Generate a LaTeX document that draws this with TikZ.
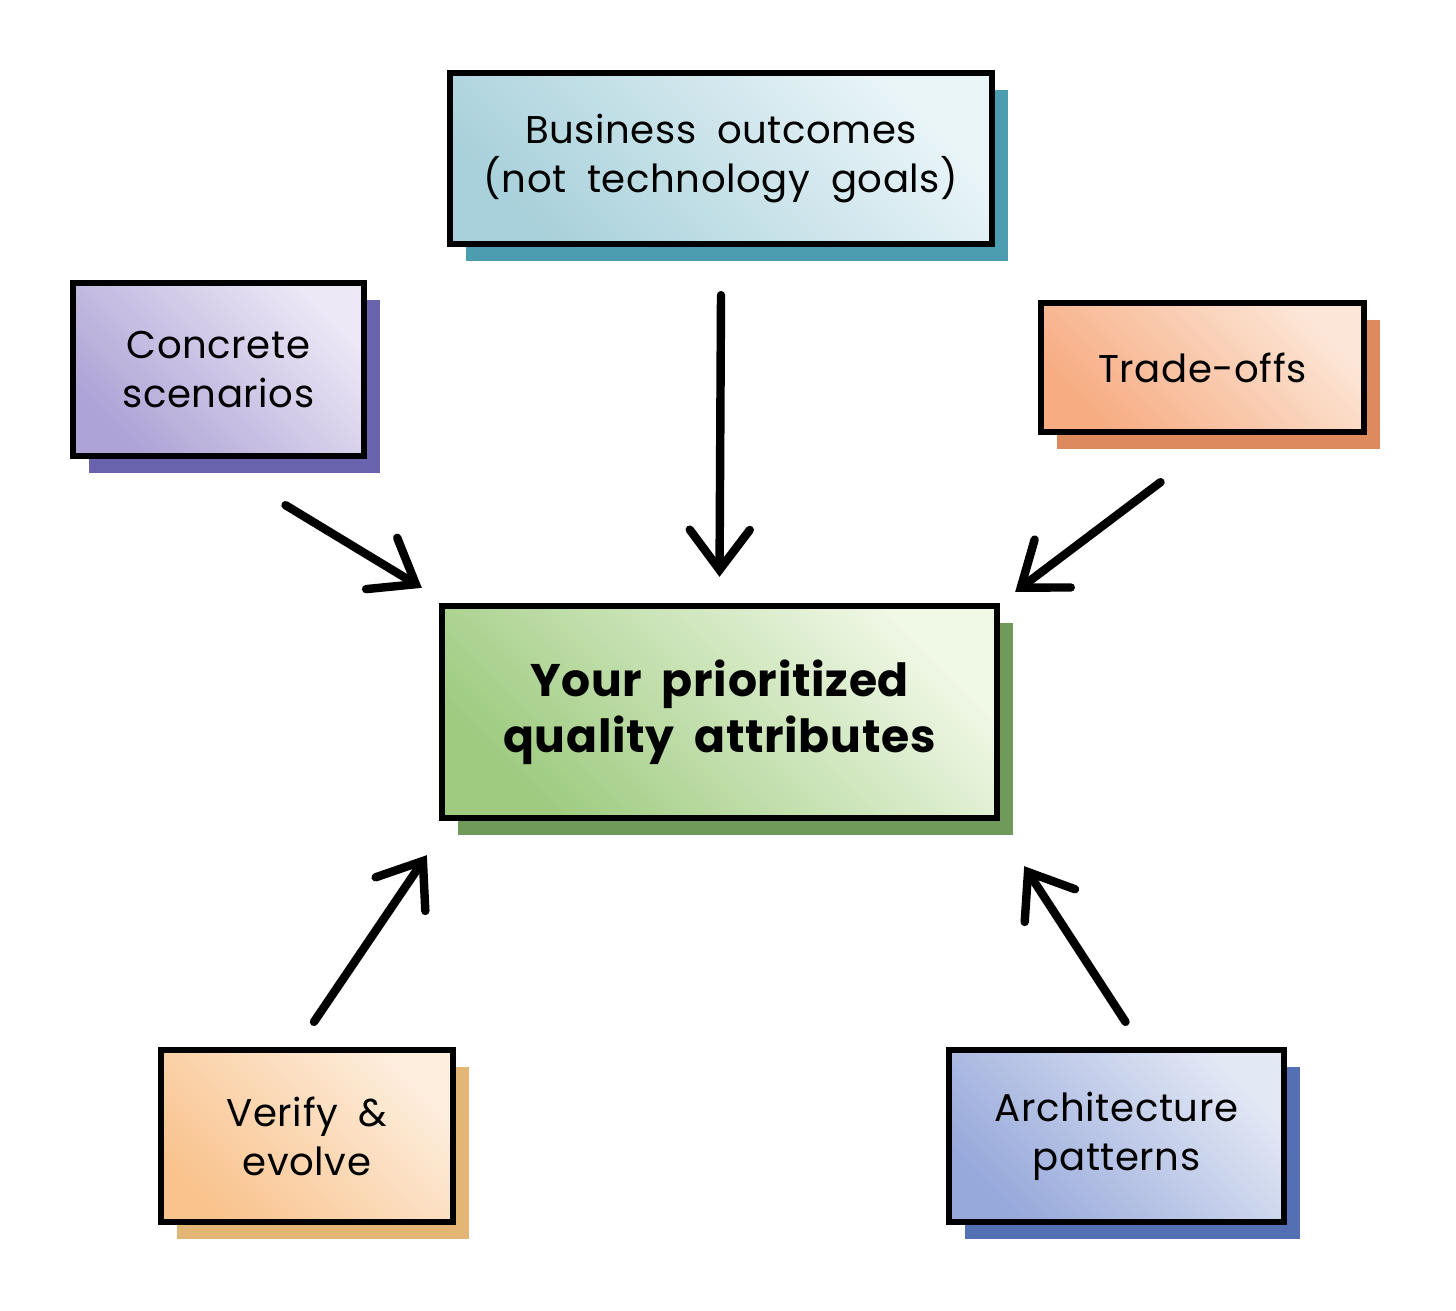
\documentclass[tikz,border=0pt]{standalone}
\usepackage{fontspec}
\setmainfont{Poppins}[LetterSpace=1.5,WordSpace=1.9]
\usepackage{tikz}
\usetikzlibrary{positioning, arrows.meta, shadows}

\definecolor{bizdark}{HTML}{A9D1DB}
\definecolor{bizlight}{HTML}{EAF5F8}
\definecolor{bizshadow}{HTML}{4D9DB0}
\definecolor{concdark}{HTML}{AEA3D6}
\definecolor{conclight}{HTML}{ECE8F6}
\definecolor{concshadow}{HTML}{6A64AE}
\definecolor{tradedark}{HTML}{F7AC82}
\definecolor{tradelight}{HTML}{FCE6D7}
\definecolor{tradeshadow}{HTML}{DD8A5E}
\definecolor{priodark}{HTML}{9ECB80}
\definecolor{priolight}{HTML}{F0F8E6}
\definecolor{prioshadow}{HTML}{6F9A5A}
\definecolor{verdark}{HTML}{F9C38E}
\definecolor{verlight}{HTML}{FDEEDD}
\definecolor{vershadow}{HTML}{E3B676}
\definecolor{archdark}{HTML}{97A9DB}
\definecolor{archlight}{HTML}{E3E8F5}
\definecolor{archshadow}{HTML}{546FB3}

\tikzset{
  card/.style n args={3}{shape=rectangle, draw=black, line width=1.8pt,
    align=center, inner sep=0pt,
    font=\fontsize{11}{14}\selectfont,
    top color=#2, bottom color=#1, shading angle=-45,
    general shadow={fill=#3, shadow xshift=0.16cm, shadow yshift=-0.17cm}},
  flow/.style={line width=2.4pt, line cap=round,
    -{Straight Barb[length=4mm, width=6mm, line cap=round]}},
}

\begin{document}
\begin{tikzpicture}
  \useasboundingbox (0,0) rectangle (14.56,-13.10);

  \node[card={bizdark}{bizlight}{bizshadow}, minimum width=5.42cm, minimum height=1.71cm] (biz) at (7.21,-1.585) {Business outcomes\\(not technology goals)};
  \node[card={concdark}{conclight}{concshadow}, minimum width=2.91cm, minimum height=1.73cm] (conc) at (2.185,-3.695) {Concrete\\scenarios};
  \node[card={tradedark}{tradelight}{tradeshadow}, minimum width=3.23cm, minimum height=1.29cm] (trade) at (12.025,-3.675) {Trade-offs};

  \node[card={priodark}{priolight}{prioshadow}, minimum width=5.55cm, minimum height=2.12cm, font=\fontsize{13}{16}\selectfont\bfseries] (prio) at (7.195,-7.12) {Your prioritized\\quality attributes};

  \node[card={verdark}{verlight}{vershadow}, minimum width=2.92cm, minimum height=1.72cm] (ver) at (3.07,-11.36) {Verify \&\\evolve};
  \node[card={archdark}{archlight}{archshadow}, minimum width=3.35cm, minimum height=1.72cm] (arch) at (11.165,-11.36) {Architecture\\patterns};

  \path [flow] ([yshift=-0.48cm]biz.south) edge ([yshift=0.26cm]prio.north);
  \path [flow] ([shift={(0.67,-0.46)}]conc.south) edge ([shift={(-0.17,0.15)}]prio.north west);
  \path [flow] ([shift={(-0.42,-0.47)}]trade.south) edge ([shift={(0.15,0.11)}]prio.north east);
  \path [flow] ([shift={(0.07,0.25)}]ver.north) edge ([shift={(-0.12,-0.34)}]prio.south west);
  \path [flow] ([shift={(0.09,0.25)}]arch.north) edge ([shift={(0.24,-0.45)}]prio.south east);

\end{tikzpicture}
\end{document}
